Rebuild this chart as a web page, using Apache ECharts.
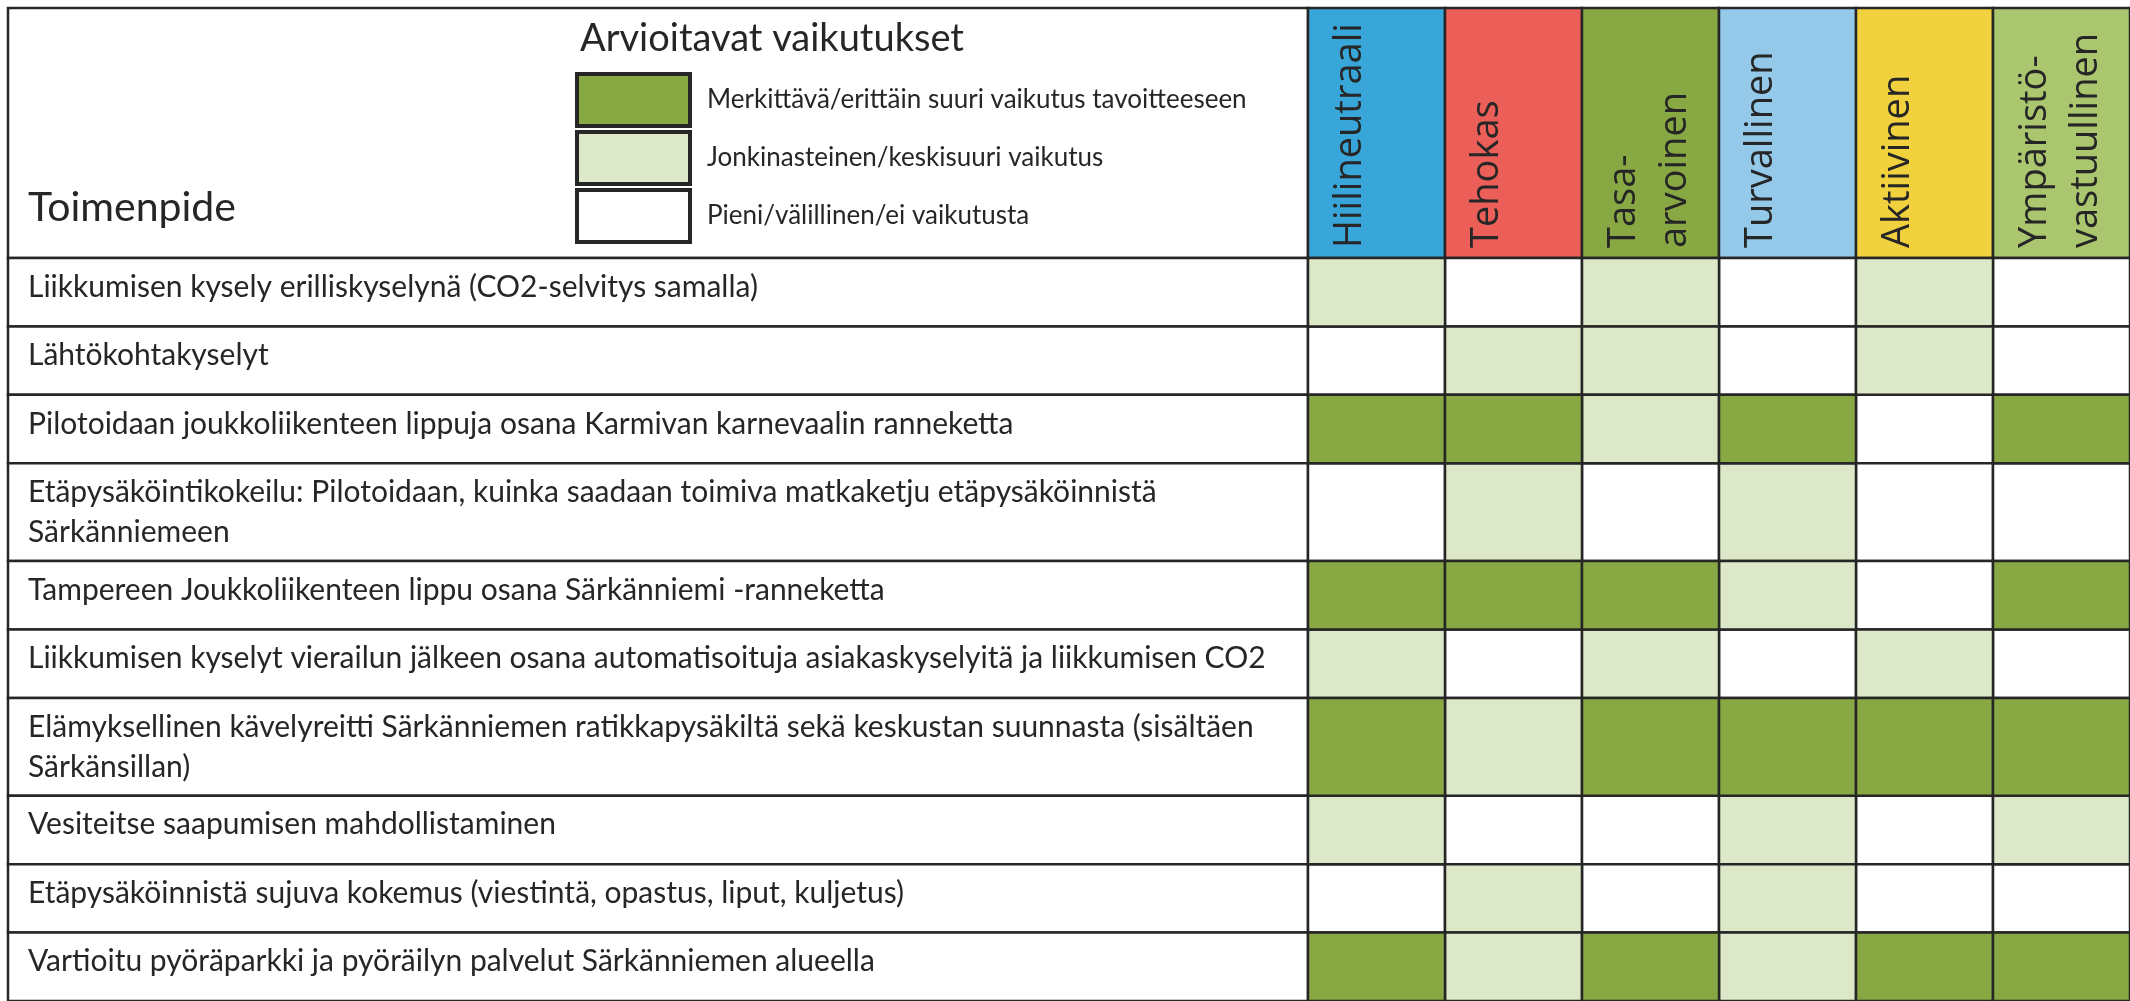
<!DOCTYPE html>
<html>
<head>
<meta charset="utf-8">
<title>Arvioitavat vaikutukset</title>
<script src="https://cdn.jsdelivr.net/npm/echarts@6/dist/echarts.min.js"></script>
<style>
  html, body { margin: 0; padding: 0; background: #fff; }
  #chart { width: 2130px; height: 1001px; }
</style>
</head>
<body>
<div id="chart"></div>
<script>
// Data
const columns = ['Hiilineutraali', 'Tehokas', 'Tasa-\narvoinen', 'Turvallinen', 'Aktiivinen', 'Ympäristö-\nvastuullinen'];
const measures = [
  'Liikkumisen kysely erilliskyselynä (CO2-selvitys samalla)',
  'Lähtökohtakyselyt',
  'Pilotoidaan joukkoliikenteen lippuja osana Karmivan karnevaalin ranneketta',
  'Etäpysäköintikokeilu: Pilotoidaan, kuinka saadaan toimiva matkaketju etäpysäköinnistä\nSärkänniemeen',
  'Tampereen Joukkoliikenteen lippu osana Särkänniemi -ranneketta',
  'Liikkumisen kyselyt vierailun jälkeen osana automatisoituja asiakaskyselyitä ja liikkumisen CO2',
  'Elämyksellinen kävelyreitti Särkänniemen ratikkapysäkiltä sekä keskustan suunnasta (sisältäen\nSärkänsillan)',
  'Vesiteitse saapumisen mahdollistaminen',
  'Etäpysäköinnistä sujuva kokemus (viestintä, opastus, liput, kuljetus)',
  'Vartioitu pyöräparkki ja pyöräilyn palvelut Särkänniemen alueella'
];
// level index: 0 = pieni, 1 = jonkinasteinen, 2 = merkittävä
const levels = [
  'Pieni/välillinen/ei vaikutusta',
  'Jonkinasteinen/keskisuuri vaikutus',
  'Merkittävä/erittäin suuri vaikutus tavoitteeseen'
];
const impact = [
  [1, 0, 1, 0, 1, 0],
  [0, 1, 1, 0, 1, 0],
  [2, 2, 1, 2, 0, 2],
  [0, 1, 0, 1, 0, 0],
  [2, 2, 2, 1, 0, 2],
  [1, 0, 1, 0, 1, 0],
  [2, 1, 2, 2, 2, 2],
  [1, 0, 0, 1, 0, 1],
  [0, 1, 0, 1, 0, 0],
  [2, 1, 2, 1, 2, 2]
];
const legendTitle = 'Arvioitavat vaikutukset';
const measureTitle = 'Toimenpide';

// Styles
const INK = '#262626';
const headerColors = ['#38a6d8', '#ec5f59', '#87a843', '#94c9ea', '#f2d13f', '#aac66e'];
const levelColors = ['#ffffff', '#dde8c8', '#87a843'];
const BODY_FONT = 'Lato, "Open Sans", sans-serif';
const HEAD_FONT = '"Open Sans", Lato, sans-serif';

// Row extents in row units (a two-line row is ~1.43 single rows)
const rowSpans = [];
let acc = 0;
measures.forEach((m) => {
  const h = 1 + 0.43 * (m.split('\n').length - 1);
  rowSpans.push([acc, acc + h]);
  acc += h;
});
const totalUnits = acc;

function renderCell(params, api) {
  const c = api.value(0);
  const a = api.coord([c, api.value(1)]);
  const b = api.coord([c, api.value(2)]);
  const w = api.size([1, 0])[0];
  return {
    type: 'rect',
    shape: { x: a[0] - w / 2, y: a[1], width: w, height: b[1] - a[1] },
    style: { fill: api.visual('color'), stroke: INK, lineWidth: 2.5 }
  };
}

function renderHeader(params, api) {
  const i = api.value(0);
  const bot = api.coord([i, 0]);
  const top = api.coord([i, 1]);
  const w = api.size([1, 0])[0];
  const x0 = bot[0] - w / 2;
  return {
    type: 'group',
    children: [
      { type: 'rect', shape: { x: x0, y: top[1], width: w, height: bot[1] - top[1] }, style: { fill: headerColors[i], stroke: INK, lineWidth: 2.5 } },
      {
        type: 'text', x: x0 + 17, y: bot[1] - 10, rotation: Math.PI / 2,
        style: { text: columns[i], fontFamily: HEAD_FONT, fontSize: 38, fill: INK, align: 'left', verticalAlign: 'top', lineHeight: 51 }
      }
    ]
  };
}

function renderMeasure(params, api) {
  const a = api.coord([0, api.value(1)]);
  const b = api.coord([1, api.value(2)]);
  return {
    type: 'group',
    children: [
      { type: 'rect', shape: { x: a[0], y: a[1], width: b[0] - a[0], height: b[1] - a[1] }, style: { fill: '#fff', stroke: INK, lineWidth: 2.5 } },
      {
        type: 'text', x: a[0] + 20, y: a[1] + 9,
        style: { text: measures[params.dataIndex], fontFamily: BODY_FONT, fontSize: 30, fill: INK, align: 'left', verticalAlign: 'top', lineHeight: 40 }
      }
    ]
  };
}

const hidden = { show: false };
const unitAxis = (gridIndex) => ({ type: 'value', gridIndex, min: 0, max: 1, ...hidden });
const colAxis = (gridIndex) => ({ type: 'category', gridIndex, data: columns, ...hidden });
const rowAxis = (gridIndex) => ({ type: 'value', gridIndex, min: 0, max: totalUnits, inverse: true, ...hidden });

const levelSeries = levels.map((name, lv) => ({
  name,
  type: 'custom',
  xAxisIndex: 3,
  yAxisIndex: 3,
  silent: true,
  itemStyle: { color: levelColors[lv] },
  encode: { x: 0, y: [1, 2] },
  data: impact.flatMap((row, r) => row.map((v, c) => (v === lv ? [c, rowSpans[r][0], rowSpans[r][1]] : null)).filter(Boolean)),
  renderItem: renderCell
}));

const chart = echarts.init(document.getElementById('chart'), null, { renderer: 'canvas' });
chart.setOption({
  animation: false,
  backgroundColor: '#fff',
  title: [
    { text: legendTitle, left: 580, top: 20, padding: 0, textStyle: { fontFamily: BODY_FONT, fontSize: 38, fontWeight: 'normal', color: INK, lineHeight: 38 } },
    { text: measureTitle, left: 28, top: 187, padding: 0, textStyle: { fontFamily: BODY_FONT, fontSize: 41, fontWeight: 'normal', color: INK, lineHeight: 41 } }
  ],
  legend: {
    orient: 'vertical',
    left: 575,
    top: 72,
    padding: 0,
    itemWidth: 113,
    itemHeight: 52,
    itemGap: 2,
    icon: 'rect',
    selectedMode: false,
    textStyle: { fontFamily: BODY_FONT, fontSize: 26, color: INK, padding: [0, 0, 0, 12] },
    data: levels.map((name, lv) => ({ name, itemStyle: { color: levelColors[lv], borderColor: INK, borderWidth: 4 } })).reverse()
  },
  grid: [
    { left: 8, top: 8, width: 1300, height: 250, show: true, borderColor: INK, borderWidth: 2.5, backgroundColor: '#fff' },
    { left: 1308, top: 8, right: -8, height: 250 },
    { left: 8, top: 258, width: 1300, height: 745 },
    { left: 1308, top: 258, right: -8, height: 745 }
  ],
  xAxis: [unitAxis(0), colAxis(1), unitAxis(2), colAxis(3)],
  yAxis: [unitAxis(0), unitAxis(1), rowAxis(2), rowAxis(3)],
  series: [
    {
      type: 'custom', xAxisIndex: 1, yAxisIndex: 1, silent: true,
      encode: { x: 0, y: [1, 2] },
      data: columns.map((c, i) => [i, 0, 1]),
      renderItem: renderHeader
    },
    {
      type: 'custom', xAxisIndex: 2, yAxisIndex: 2, silent: true,
      encode: { x: 0, y: [1, 2] },
      data: measures.map((m, r) => [0, rowSpans[r][0], rowSpans[r][1]]),
      renderItem: renderMeasure
    },
    ...levelSeries
  ]
});
</script>
</body>
</html>
